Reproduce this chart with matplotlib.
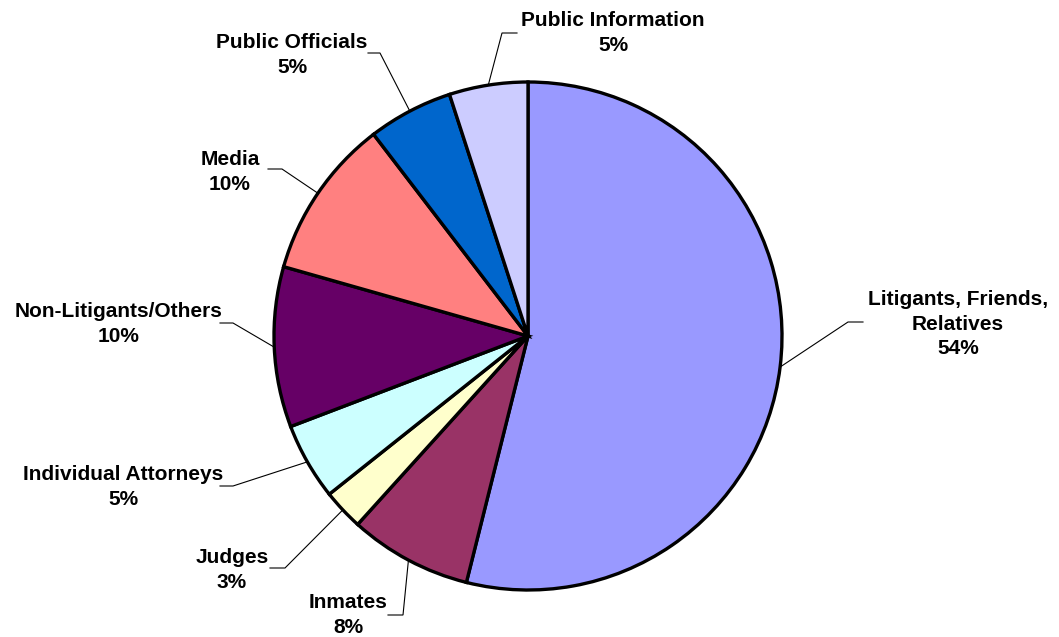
import matplotlib.pyplot as plt
import numpy as np

plt.rcParams['font.family'] = ['Liberation Sans', 'DejaVu Sans']

categories = ["Litigants, Friends,\nRelatives", "Inmates", "Judges", "Individual Attorneys",
              "Non-Litigants/Others", "Media", "Public Officials", "Public Information"]
shares = [53.9, 7.8, 2.6, 4.9, 10.2, 10.2, 5.4, 5.0]
colors = ["#9999FF", "#993366", "#FFFFCC", "#CCFFFF", "#660066", "#FF8080", "#0066CC", "#CCCCFF"]

W, H = 1059, 637
fig = plt.figure(figsize=(W / 100, H / 100), dpi=100)
ax = fig.add_axes([0, 0, 1, 1])
cx, cy, R = 528, H - 336, 254
wedges, _ = ax.pie(shares, colors=colors, startangle=90, counterclock=False,
                   center=(cx, cy), radius=R,
                   wedgeprops=dict(edgecolor='black', linewidth=2.4))
ax.set_xlim(0, W)
ax.set_ylim(0, H)
ax.set_aspect('equal')
ax.axis('off')

# layout (pixel coords measured from top): elbow point, line end, text centre
layout = [
    ((848, 322), (863, 322), (958, 324)),
    ((403, 615), (388, 615), (348, 615)),
    ((285, 568), (270, 568), (232, 570)),
    ((233, 486), (220, 486), (123, 487)),
    ((233, 323), (220, 323), (119, 324)),
    ((282, 169), (268, 169), (230, 172)),
    ((380, 53), (368, 53), (292, 55)),
    ((502, 33), (517, 33), (613, 33)),
]

for w, cat, val, (elb, end, txt) in zip(wedges, categories, shares, layout):
    mid = np.deg2rad((w.theta1 + w.theta2) / 2)
    ex, ey = cx + R * np.cos(mid), cy + R * np.sin(mid)
    ax.plot([ex, elb[0], end[0]], [ey, H - elb[1], H - end[1]], color='black', lw=0.8,
            solid_joinstyle='miter', zorder=0.5)
    ax.text(txt[0], H - txt[1], f"{cat}\n{round(val):.0f}%", ha='center', va='center',
            multialignment='center', fontsize=15, fontweight='bold', linespacing=1.35)

fig.savefig('out.png', dpi=100)
